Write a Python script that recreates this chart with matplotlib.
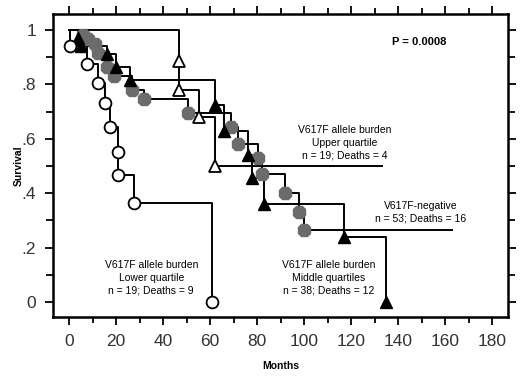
import matplotlib
matplotlib.use('Agg')
import matplotlib.pyplot as plt
from matplotlib.ticker import MultipleLocator, FixedLocator

plt.rcParams['font.family'] = ['Liberation Sans', 'DejaVu Sans']

# Kaplan-Meier curves: event times (months) and survival after each drop
lower_t = [0.5, 7.5, 12.5, 15.5, 17.5, 20.8, 20.8, 27.5, 61]
lower_s = [0.94, 0.875, 0.805, 0.73, 0.645, 0.55, 0.467, 0.365, 0.0]
lower_end = 61

upper_t = [47, 47, 55.5, 62]
upper_s = [0.886, 0.78, 0.68, 0.5]
upper_end = 133

middle_t = [4, 5, 16, 20, 26, 62, 66, 76, 78, 83, 117, 135]
middle_s = [0.97, 0.94, 0.91, 0.865, 0.815, 0.725, 0.63, 0.54, 0.455, 0.36, 0.24, 0.0]
middle_end = 135

neg_t = [6, 8, 11, 12.5, 16, 19, 27, 32, 50.5, 69, 72, 80.5, 82, 92, 98, 100]
neg_s = [0.98, 0.965, 0.95, 0.915, 0.865, 0.83, 0.78, 0.745, 0.695, 0.645, 0.58,
         0.53, 0.47, 0.40, 0.33, 0.265]
neg_end = 163

x_ticks = [0, 20, 40, 60, 80, 100, 120, 140, 160, 180]
y_ticks = [0, 0.2, 0.4, 0.6, 0.8, 1.0]
y_labels = ['0', '.2', '.4', '.6', '.8', '1']


def km_line(ax, t, s, end):
    xs = [0] + list(t) + [end]
    ys = [1.0] + list(s) + [s[-1]]
    ax.step(xs, ys, where='post', color='black', lw=1.4, zorder=2)


fig = plt.figure(figsize=(5.2, 3.76), dpi=100)
ax = fig.add_axes([0.102, 0.157, 0.875, 0.806])

km_line(ax, neg_t, neg_s, neg_end)
km_line(ax, middle_t, middle_s, middle_end)
km_line(ax, upper_t, upper_s, upper_end)
km_line(ax, lower_t, lower_s, lower_end)

ax.plot(neg_t, neg_s, ls='none', marker='8', ms=9.5, color='#6b6b6b', mec='#6b6b6b', zorder=3)
ax.plot(middle_t, middle_s, ls='none', marker='^', ms=8.5, color='black', zorder=4)
ax.plot(upper_t, upper_s, ls='none', marker='^', ms=8.5, mfc='white', mec='black', mew=1.3, zorder=4)
ax.plot(lower_t, lower_s, ls='none', marker='o', ms=8.5, mfc='white', mec='black', mew=1.3, zorder=4)

ax.set_xlim(-6.8, 186.8)
ax.set_ylim(-0.055, 1.059)
ax.xaxis.set_major_locator(FixedLocator(x_ticks))
ax.xaxis.set_minor_locator(MultipleLocator(10))
ax.yaxis.set_major_locator(FixedLocator(y_ticks))
ax.set_yticklabels(y_labels)
ax.yaxis.set_minor_locator(MultipleLocator(0.1))

ax.tick_params(which='both', direction='out', top=True, right=True, width=1.3, colors='black')
ax.tick_params(which='major', length=6, labelsize=12.5, labelcolor='#333333', pad=6)
ax.tick_params(which='minor', length=4)
ax.tick_params(axis='y', which='minor', length=5)
for sp in ax.spines.values():
    sp.set_linewidth(1.8)

ax.set_xlabel('Months', fontsize=7.5, fontweight='bold')
ax.set_ylabel('Survival', fontsize=7.5, fontweight='bold')
ax.xaxis.set_label_coords(0.5, -0.145)
ax.yaxis.set_label_coords(-0.064, 0.5)

ax.text(149, 0.955, 'P = 0.0008', fontsize=8, fontweight='bold', ha='center', va='center')
kw = dict(fontsize=7.5, ha='center', va='center', linespacing=1.35)
ax.text(117.5, 0.585, 'V617F allele burden\nUpper quartile\nn = 19; Deaths = 4', **kw)
ax.text(149.5, 0.33, 'V617F-negative\nn = 53; Deaths = 16', **kw)
ax.text(110.5, 0.088, 'V617F allele burden\nMiddle quartiles\nn = 38; Deaths = 12', **kw)
ax.text(35, 0.088, 'V617F allele burden\nLower quartile\nn = 19; Deaths = 9', **kw)

fig.savefig('out.png', dpi=100)
